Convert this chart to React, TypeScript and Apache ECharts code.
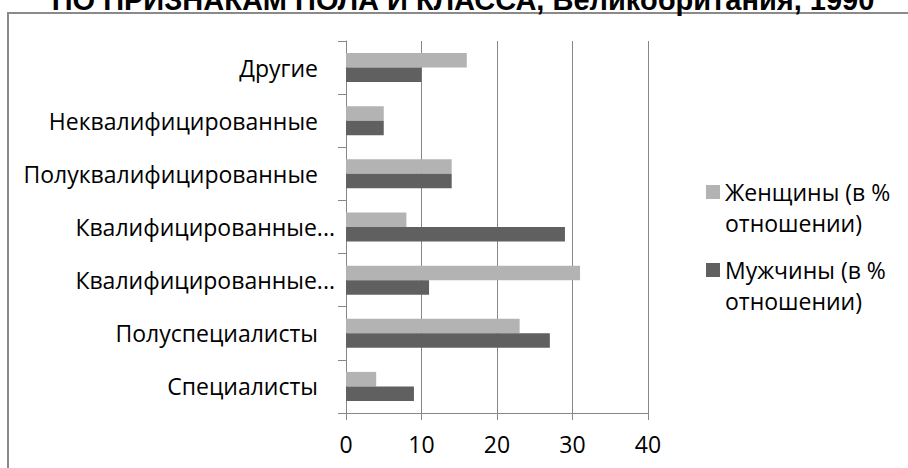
import React, { useEffect, useRef } from "react";
import * as echarts from "echarts";

const titleText = "ПО ПРИЗНАКАМ ПОЛА И КЛАССА, Великобритания, 1990";
const categories = [
  "Специалисты",
  "Полуспециалисты",
  "Квалифицированные нефизического труда",
  "Квалифицированные физического труда",
  "Полуквалифицированные",
  "Неквалифицированные",
  "Другие",
];
const seriesNames = ["Женщины (в % отношении)", "Мужчины (в % отношении)"];
const women = [4, 23, 31, 8, 14, 5, 16];
const men = [9, 27, 11, 29, 14, 5, 10];
const xTicks = [0, 10, 20, 30, 40];

const FONT = '"Open Sans", "Noto Sans", sans-serif';
const GRAY = "#878787";

export default function App() {
  const ref = useRef<HTMLDivElement>(null);
  useEffect(() => {
    if (!ref.current) return;
    const chart = echarts.init(ref.current, null, { renderer: "svg" });
    chart.setOption({
      animation: false,
      backgroundColor: "#ffffff",
      graphic: [
        {
          type: "rect",
          shape: { x: 8, y: 13, width: 1000, height: 600 },
          style: { fill: "none", stroke: "#8a8a8a", lineWidth: 2 },
          silent: true,
        },
        {
          type: "text",
          x: 463,
          y: 0,
          style: {
            text: titleText,
            fontSize: 29,
            fontWeight: "bold",
            fontFamily: '"Liberation Sans", Arial, sans-serif',
            fill: "#000",
            align: "center",
            verticalAlign: "middle",
          },
          silent: true,
        },
      ],
      grid: { left: 346, right: 260, top: 41, bottom: 55, containLabel: false },
      legend: {
        orient: "vertical",
        left: 706,
        top: 145.5,
        padding: 0,
        itemGap: -15,
        icon: "rect",
        itemWidth: 14,
        itemHeight: 14,
        data: seriesNames,
        formatter: (name: string) => "\n" + name.replace(" отношении", "\nотношении"),
        textStyle: {
          fontSize: 23,
          fontFamily: FONT,
          color: "#000",
          lineHeight: 31,
        },
      },
      xAxis: {
        type: "value",
        min: xTicks[0],
        max: xTicks[xTicks.length - 1],
        interval: 10,
        axisLine: { show: true, lineStyle: { color: GRAY, width: 1 } },
        axisTick: { show: true, length: 7, lineStyle: { color: GRAY } },
        splitLine: { show: true, lineStyle: { color: GRAY, width: 1 } },
        axisLabel: {
          margin: 19,
          fontSize: 23,
          fontFamily: FONT,
          color: "#000",
        },
      },
      yAxis: {
        type: "category",
        data: categories,
        axisLine: { show: true, lineStyle: { color: GRAY, width: 1 } },
        axisTick: { show: true, length: 8, lineStyle: { color: GRAY } },
        splitLine: { show: false },
        axisLabel: {
          margin: 11,
          fontSize: 23,
          fontFamily: FONT,
          color: "#000",
          formatter: (v: string) =>
            v.length > 22 ? "{t|" + v.slice(0, 17) + "...}" : "{n|" + v + "}",
          rich: {
            t: { fontSize: 23, fontFamily: FONT, color: "#000" },
            n: { fontSize: 23, fontFamily: FONT, color: "#000", padding: [0, 17, 0, 0] },
          },
        },
      },
      series: [
        {
          name: seriesNames[0],
          type: "bar",
          data: women,
          barWidth: 14.5,
          barGap: "0%",
          itemStyle: { color: "#b3b3b3" },
        },
        {
          name: seriesNames[1],
          type: "bar",
          data: men,
          barWidth: 14.5,
          barGap: "0%",
          itemStyle: { color: "#606060" },
        },
      ],
    });
    return () => chart.dispose();
  }, []);
  return (
    <div
      ref={ref}
      style={{ position: "fixed", left: 0, top: 0, width: 908, height: 468 }}
    />
  );
}
